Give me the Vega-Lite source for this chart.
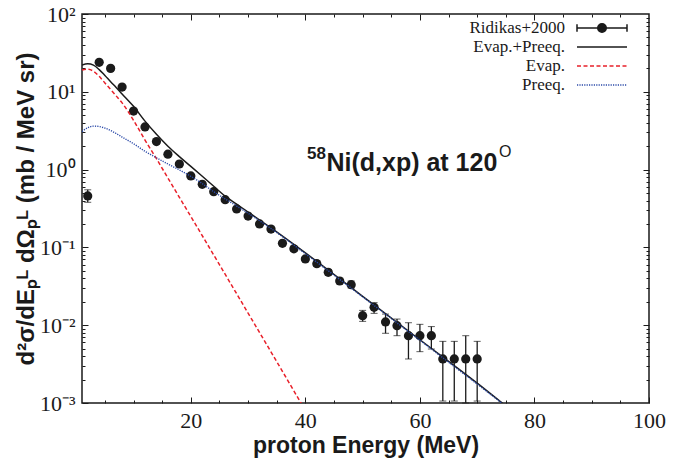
{
  "$schema": "https://vega.github.io/schema/vega-lite/v6.json",
  "width": 567,
  "height": 389,
  "autosize": {"type": "none"},
  "padding": {"left": 82, "top": 14, "right": 40, "bottom": 58},
  "background": "white",
  "config": {
    "view": {"stroke": "#1a1a1a", "strokeWidth": 1.5},
    "axis": {"grid": false, "domain": false, "tickColor": "#1a1a1a", "tickWidth": 1, "labelFont": "Liberation Serif", "labelFontSize": 22, "labelColor": "#1a1a1a", "titleFont": "Liberation Sans", "titleFontWeight": "bold", "titleColor": "#1a1a1a"},
    "legend": {"padding": 0, "orient": "none", "title": null, "symbolSize": 2500, "symbolStrokeWidth": 1.5, "labelAlign": "right", "labelOffset": -63, "labelFont": "Liberation Serif", "labelFontSize": 17, "labelColor": "#1a1a1a", "legendX": 494}
  },
  "datasets": {
    "total": [
      {"series": "Evap.+Preeq.", "E": 1, "v": 22.1},
      {"series": "Evap.+Preeq.", "E": 2, "v": 22.9},
      {"series": "Evap.+Preeq.", "E": 3, "v": 22.0},
      {"series": "Evap.+Preeq.", "E": 4, "v": 19.3},
      {"series": "Evap.+Preeq.", "E": 5, "v": 16.2},
      {"series": "Evap.+Preeq.", "E": 6, "v": 13.5},
      {"series": "Evap.+Preeq.", "E": 7, "v": 11.3},
      {"series": "Evap.+Preeq.", "E": 8, "v": 9.4},
      {"series": "Evap.+Preeq.", "E": 10, "v": 6.5},
      {"series": "Evap.+Preeq.", "E": 12, "v": 4.2},
      {"series": "Evap.+Preeq.", "E": 14, "v": 2.85},
      {"series": "Evap.+Preeq.", "E": 16, "v": 2.0},
      {"series": "Evap.+Preeq.", "E": 18, "v": 1.47},
      {"series": "Evap.+Preeq.", "E": 20, "v": 1.1},
      {"series": "Evap.+Preeq.", "E": 22, "v": 0.82},
      {"series": "Evap.+Preeq.", "E": 24, "v": 0.61},
      {"series": "Evap.+Preeq.", "E": 26, "v": 0.455},
      {"series": "Evap.+Preeq.", "E": 28, "v": 0.36},
      {"series": "Evap.+Preeq.", "E": 30, "v": 0.285},
      {"series": "Evap.+Preeq.", "E": 34, "v": 0.178},
      {"series": "Evap.+Preeq.", "E": 40, "v": 0.085},
      {"series": "Evap.+Preeq.", "E": 50, "v": 0.0235},
      {"series": "Evap.+Preeq.", "E": 60, "v": 0.0065},
      {"series": "Evap.+Preeq.", "E": 70, "v": 0.0018},
      {"series": "Evap.+Preeq.", "E": 76, "v": 0.0008}
    ],
    "evap": [
      {"series": "Evap.", "E": 1, "v": 19.0},
      {"series": "Evap.", "E": 2, "v": 19.5},
      {"series": "Evap.", "E": 3, "v": 18.4},
      {"series": "Evap.", "E": 4, "v": 15.8},
      {"series": "Evap.", "E": 5, "v": 13.0},
      {"series": "Evap.", "E": 6, "v": 10.7},
      {"series": "Evap.", "E": 7, "v": 8.8},
      {"series": "Evap.", "E": 8, "v": 7.2},
      {"series": "Evap.", "E": 10, "v": 4.3},
      {"series": "Evap.", "E": 12, "v": 2.4},
      {"series": "Evap.", "E": 14, "v": 1.38},
      {"series": "Evap.", "E": 16, "v": 0.78},
      {"series": "Evap.", "E": 18, "v": 0.44},
      {"series": "Evap.", "E": 20, "v": 0.25},
      {"series": "Evap.", "E": 25, "v": 0.06},
      {"series": "Evap.", "E": 30, "v": 0.0143},
      {"series": "Evap.", "E": 35, "v": 0.0034},
      {"series": "Evap.", "E": 40, "v": 0.0008}
    ],
    "preeq": [
      {"series": "Preeq.", "E": 1, "v": 3.07},
      {"series": "Preeq.", "E": 2, "v": 3.45},
      {"series": "Preeq.", "E": 3, "v": 3.62},
      {"series": "Preeq.", "E": 4, "v": 3.58},
      {"series": "Preeq.", "E": 5, "v": 3.42},
      {"series": "Preeq.", "E": 6, "v": 3.18},
      {"series": "Preeq.", "E": 7, "v": 2.9},
      {"series": "Preeq.", "E": 8, "v": 2.62},
      {"series": "Preeq.", "E": 10, "v": 2.15},
      {"series": "Preeq.", "E": 12, "v": 1.72},
      {"series": "Preeq.", "E": 14, "v": 1.42},
      {"series": "Preeq.", "E": 16, "v": 1.18},
      {"series": "Preeq.", "E": 18, "v": 0.99},
      {"series": "Preeq.", "E": 20, "v": 0.82},
      {"series": "Preeq.", "E": 22, "v": 0.66},
      {"series": "Preeq.", "E": 24, "v": 0.52},
      {"series": "Preeq.", "E": 26, "v": 0.42},
      {"series": "Preeq.", "E": 28, "v": 0.34},
      {"series": "Preeq.", "E": 30, "v": 0.275},
      {"series": "Preeq.", "E": 34, "v": 0.175},
      {"series": "Preeq.", "E": 40, "v": 0.083},
      {"series": "Preeq.", "E": 50, "v": 0.0232},
      {"series": "Preeq.", "E": 60, "v": 0.0064},
      {"series": "Preeq.", "E": 70, "v": 0.00175},
      {"series": "Preeq.", "E": 76, "v": 0.0008}
    ],
    "pts": [
      {"series": "Ridikas+2000", "E": 2, "v": 0.458, "lo": 0.38, "hi": 0.55},
      {"series": "Ridikas+2000", "E": 4, "v": 23.9, "lo": 23.0, "hi": 24.8},
      {"series": "Ridikas+2000", "E": 6, "v": 20.0, "lo": 19.2, "hi": 20.8},
      {"series": "Ridikas+2000", "E": 8, "v": 11.5, "lo": 11.0, "hi": 12.0},
      {"series": "Ridikas+2000", "E": 10, "v": 5.66, "lo": 5.43, "hi": 5.9},
      {"series": "Ridikas+2000", "E": 12, "v": 3.53, "lo": 3.39, "hi": 3.67},
      {"series": "Ridikas+2000", "E": 14, "v": 2.29, "lo": 2.2, "hi": 2.38},
      {"series": "Ridikas+2000", "E": 16, "v": 1.58, "lo": 1.52, "hi": 1.64},
      {"series": "Ridikas+2000", "E": 18, "v": 1.18, "lo": 1.13, "hi": 1.23},
      {"series": "Ridikas+2000", "E": 20, "v": 0.83, "lo": 0.8, "hi": 0.86},
      {"series": "Ridikas+2000", "E": 22, "v": 0.647, "lo": 0.62, "hi": 0.67},
      {"series": "Ridikas+2000", "E": 24, "v": 0.52, "lo": 0.5, "hi": 0.54},
      {"series": "Ridikas+2000", "E": 26, "v": 0.41, "lo": 0.39, "hi": 0.43},
      {"series": "Ridikas+2000", "E": 28, "v": 0.312, "lo": 0.3, "hi": 0.325},
      {"series": "Ridikas+2000", "E": 30, "v": 0.253, "lo": 0.243, "hi": 0.263},
      {"series": "Ridikas+2000", "E": 32, "v": 0.2, "lo": 0.19, "hi": 0.21},
      {"series": "Ridikas+2000", "E": 34, "v": 0.172, "lo": 0.163, "hi": 0.181},
      {"series": "Ridikas+2000", "E": 36, "v": 0.113, "lo": 0.105, "hi": 0.121},
      {"series": "Ridikas+2000", "E": 38, "v": 0.096, "lo": 0.089, "hi": 0.103},
      {"series": "Ridikas+2000", "E": 40, "v": 0.071, "lo": 0.066, "hi": 0.076},
      {"series": "Ridikas+2000", "E": 42, "v": 0.0618, "lo": 0.057, "hi": 0.067},
      {"series": "Ridikas+2000", "E": 44, "v": 0.0479, "lo": 0.044, "hi": 0.052},
      {"series": "Ridikas+2000", "E": 46, "v": 0.037, "lo": 0.034, "hi": 0.04},
      {"series": "Ridikas+2000", "E": 48, "v": 0.0332, "lo": 0.03, "hi": 0.037},
      {"series": "Ridikas+2000", "E": 50, "v": 0.01325, "lo": 0.0112, "hi": 0.0155},
      {"series": "Ridikas+2000", "E": 52, "v": 0.017, "lo": 0.0142, "hi": 0.0195},
      {"series": "Ridikas+2000", "E": 54, "v": 0.011, "lo": 0.00787, "hi": 0.0139},
      {"series": "Ridikas+2000", "E": 56, "v": 0.00986, "lo": 0.00733, "hi": 0.012},
      {"series": "Ridikas+2000", "E": 58, "v": 0.00733, "lo": 0.00368, "hi": 0.01076},
      {"series": "Ridikas+2000", "E": 60, "v": 0.00733, "lo": 0.00457, "hi": 0.01026},
      {"series": "Ridikas+2000", "E": 62, "v": 0.00733, "lo": 0.00494, "hi": 0.0096},
      {"series": "Ridikas+2000", "E": 64, "v": 0.00368, "lo": 0.00106, "hi": 0.0062},
      {"series": "Ridikas+2000", "E": 66, "v": 0.00368, "lo": 0.00106, "hi": 0.0062},
      {"series": "Ridikas+2000", "E": 68, "v": 0.00368, "lo": 0.001, "hi": 0.00733},
      {"series": "Ridikas+2000", "E": 70, "v": 0.00368, "lo": 0.00106, "hi": 0.0062}
    ],
    "note": [{"E": 58.6, "v": 1.2, "main": "Ni(d,xp) at 120", "pre": "58", "post": "O"}]
  },
  "layer": [
    {
      "data": {"name": "pts"},
      "mark": {"type": "errorbar", "ticks": {"size": 7, "color": "#1a1a1a", "strokeWidth": 1.3}, "rule": {"color": "#1a1a1a", "strokeWidth": 1.3}},
      "encoding": {
        "x": {"field": "E", "type": "quantitative", "scale": {"domain": [1, 100], "nice": false, "zero": false},
          "axis": {"orient": "bottom", "values": [5, 10, 15, 25, 30, 35, 45, 50, 55, 65, 70, 75, 85, 90, 95], "tickSize": -3, "labels": false, "title": null}},
        "y": {"field": "lo", "type": "quantitative", "scale": {"type": "log", "domain": [0.001, 100], "nice": false},
          "axis": {"orient": "left", "values": [0.002, 0.003, 0.004, 0.005, 0.006, 0.007, 0.008, 0.009, 0.02, 0.03, 0.04, 0.05, 0.06, 0.07, 0.08, 0.09, 0.2, 0.3, 0.4, 0.5, 0.6, 0.7, 0.8, 0.9, 2, 3, 4, 5, 6, 7, 8, 9, 20, 30, 40, 50, 60, 70, 80, 90], "tickSize": -3, "labels": false, "title": null}},
        "y2": {"field": "hi"}
      }
    },
    {
      "data": {"name": "pts"},
      "mark": {"type": "point", "filled": true, "size": 85, "opacity": 1},
      "encoding": {
        "x": {"field": "E", "type": "quantitative", "scale": {"domain": [1, 100], "nice": false, "zero": false},
          "axis": {"orient": "top", "values": [20, 40, 60, 80], "tickSize": -6, "labels": false, "title": null}},
        "y": {"field": "v", "type": "quantitative", "scale": {"type": "log", "domain": [0.001, 100], "nice": false},
          "axis": {"orient": "right", "values": [0.01, 0.1, 1, 10], "tickSize": -6, "labels": false, "title": null}},
        "color": {"field": "series", "type": "nominal",
          "scale": {"domain": ["Ridikas+2000"], "range": ["#1a1a1a"]},
          "legend": {"legendY": -12,
            "symbolType": "M-1,0H1M-1,-0.15V0.15M1,-0.15V0.15M0.17,0A0.17,0.17,0,1,1,-0.17,0A0.17,0.17,0,1,1,0.17,0Z",
            "symbolStrokeColor": "#1a1a1a", "symbolFillColor": "#1a1a1a",
            "encode": {"symbols": {"update": {"stroke": {"value": "#1a1a1a"}, "strokeWidth": {"value": 1.5}, "fill": {"value": "#1a1a1a"}}}}}}
      }
    },
    {
      "data": {"name": "total"},
      "mark": {"type": "line", "strokeWidth": 1.5, "interpolate": "monotone", "clip": true},
      "encoding": {
        "x": {"field": "E", "type": "quantitative", "scale": {"domain": [1, 100], "nice": false, "zero": false},
          "axis": {"orient": "bottom", "values": [20, 40, 60, 80, 100], "tickSize": -6, "labelPadding": 13, "labelFlush": false, "title": "proton Energy (MeV)", "titleFontSize": 23, "titlePadding": 3}},
        "y": {"field": "v", "type": "quantitative", "scale": {"type": "log", "domain": [0.001, 100], "nice": false},
          "axis": {"orient": "left", "values": [0.001, 0.01, 0.1, 1, 10, 100], "tickSize": -6, "labelPadding": 13, "labelFlush": false,
            "labelExpr": "datum.value >= 99 ? '10²' : datum.value >= 9 ? '10¹' : datum.value >= 0.9 ? '10⁰' : datum.value >= 0.09 ? '10⁻¹' : datum.value >= 0.009 ? '10⁻²' : '10⁻³'",
            "title": "d²σ/dEₚᴸ dΩₚᴸ (mb / MeV sr)", "titleFontSize": 24, "titlePadding": 1}},
        "color": {"field": "series", "type": "nominal",
          "scale": {"domain": ["Evap.+Preeq."], "range": ["#1a1a1a"]},
          "legend": {"legendY": 7, "symbolType": "stroke"}}
      }
    },
    {
      "data": {"name": "evap"},
      "mark": {"type": "line", "strokeWidth": 1.5, "interpolate": "monotone", "clip": true},
      "encoding": {
        "x": {"field": "E", "type": "quantitative", "scale": {"domain": [1, 100], "nice": false, "zero": false},
          "axis": {"orient": "top", "values": [5, 10, 15, 25, 30, 35, 45, 50, 55, 65, 70, 75, 85, 90, 95], "tickSize": -3, "labels": false, "title": null}},
        "y": {"field": "v", "type": "quantitative", "scale": {"type": "log", "domain": [0.001, 100], "nice": false},
          "axis": {"orient": "right", "values": [0.002, 0.003, 0.004, 0.005, 0.006, 0.007, 0.008, 0.009, 0.02, 0.03, 0.04, 0.05, 0.06, 0.07, 0.08, 0.09, 0.2, 0.3, 0.4, 0.5, 0.6, 0.7, 0.8, 0.9, 2, 3, 4, 5, 6, 7, 8, 9, 20, 30, 40, 50, 60, 70, 80, 90], "tickSize": -3, "labels": false, "title": null}},
        "color": {"field": "series", "type": "nominal",
          "scale": {"domain": ["Evap."], "range": ["#e8202a"]},
          "legend": {"legendY": 26, "symbolType": "stroke"}},
        "strokeDash": {"field": "series", "type": "nominal",
          "scale": {"domain": ["Evap."], "range": [[4, 2.5]]},
          "legend": {"legendY": 26, "symbolType": "stroke"}}
      }
    },
    {
      "data": {"name": "preeq"},
      "mark": {"type": "line", "strokeWidth": 1.4, "interpolate": "monotone", "clip": true},
      "encoding": {
        "x": {"field": "E", "type": "quantitative", "scale": {"domain": [1, 100], "nice": false, "zero": false}, "axis": null},
        "y": {"field": "v", "type": "quantitative", "scale": {"type": "log", "domain": [0.001, 100], "nice": false}, "axis": null},
        "color": {"field": "series", "type": "nominal",
          "scale": {"domain": ["Preeq."], "range": ["#2b4aa8"]},
          "legend": {"legendY": 45, "symbolType": "stroke"}},
        "strokeDash": {"field": "series", "type": "nominal",
          "scale": {"domain": ["Preeq."], "range": [[1.2, 1.2]]},
          "legend": {"legendY": 45, "symbolType": "stroke"}}
      }
    },
    {
      "data": {"name": "note"},
      "mark": {"type": "text", "font": "Liberation Sans", "fontWeight": "bold", "fontSize": 25, "align": "center", "baseline": "middle", "color": "#1a1a1a"},
      "encoding": {
        "x": {"field": "E", "type": "quantitative", "scale": {"domain": [1, 100], "nice": false, "zero": false}, "axis": null},
        "y": {"field": "v", "type": "quantitative", "scale": {"type": "log", "domain": [0.001, 100], "nice": false}, "axis": null},
        "text": {"field": "main"}
      }
    },
    {
      "data": {"name": "note"},
      "mark": {"type": "text", "font": "Liberation Sans", "fontWeight": "bold", "fontSize": 17, "align": "right", "baseline": "middle", "dx": -86, "dy": -9, "color": "#1a1a1a"},
      "encoding": {
        "x": {"field": "E", "type": "quantitative", "scale": {"domain": [1, 100], "nice": false, "zero": false}, "axis": null},
        "y": {"field": "v", "type": "quantitative", "scale": {"type": "log", "domain": [0.001, 100], "nice": false}, "axis": null},
        "text": {"field": "pre"}
      }
    },
    {
      "data": {"name": "note"},
      "mark": {"type": "text", "font": "Liberation Sans", "fontWeight": "normal", "fontSize": 16, "align": "left", "baseline": "middle", "dx": 87, "dy": -11, "color": "#1a1a1a"},
      "encoding": {
        "x": {"field": "E", "type": "quantitative", "scale": {"domain": [1, 100], "nice": false, "zero": false}, "axis": null},
        "y": {"field": "v", "type": "quantitative", "scale": {"type": "log", "domain": [0.001, 100], "nice": false}, "axis": null},
        "text": {"field": "post"}
      }
    }
  ],
  "resolve": {"scale": {"color": "independent", "strokeDash": "independent"}, "axis": {"x": "independent", "y": "independent"}}
}
